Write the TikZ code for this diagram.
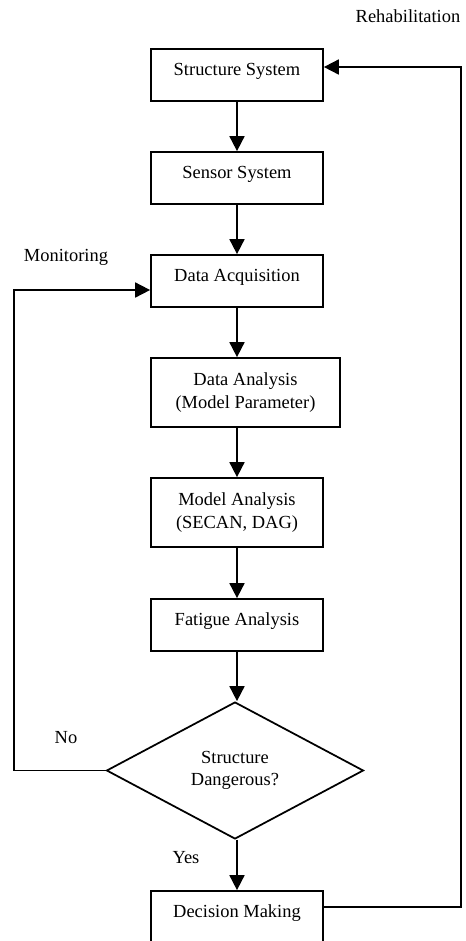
\documentclass[tikz,border=0pt]{standalone}
\usepackage{fontspec}
\setmainfont{Liberation Serif}
\usetikzlibrary{arrows.meta, shapes.geometric}

\begin{document}
\begin{tikzpicture}[x=0.02cm, y=-0.02cm, line width=1pt,
    font=\fontsize{10.5}{12.6}\selectfont,
    box/.style={draw, rectangle, minimum width=3.44cm, minimum height=1.04cm,
      text height=7.4pt, text depth=7.4pt, inner sep=2pt},
    tallbox/.style={draw, rectangle, minimum width=3.44cm, minimum height=1.38cm,
      align=center, inner sep=2pt},
    decide/.style={draw, diamond, minimum width=5.14cm, minimum height=2.74cm,
      align=center, inner sep=0pt},
    flow/.style={-{Triangle[length=8.5pt, width=8.5pt]}}]
  \useasboundingbox (0,0) rectangle (466,941);
  % main chain
  \node[box] (struct) at (237,75) {Structure System};
  \node[box] (sensor) at (237,178) {Sensor System};
  \node[box] (acq) at (237,281) {Data Acquisition};
  \node[tallbox, minimum width=3.78cm] (dana) at (245.5,392.5) {Data Analysis\\(Model Parameter)};
  \node[tallbox] (mana) at (237,512.5) {Model Analysis\\(SECAN, DAG)};
  \node[box] (fat) at (237,625) {Fatigue Analysis};
  \node[decide] (danger) at (235,770.5) {Structure\\Dangerous?};
  \node[box] (dm) at (237,917) {Decision Making};
  % labels
  \node (rehab) at (408,16) {Rehabilitation};
  \node (monitor) at (66,257) {Monitoring};
  \node (no) at (66,738) {No};
  \node (yes) at (186,858) {Yes};
  % arrows down the chain
  \draw[flow] (struct) -- (sensor);
  \draw[flow] (sensor) -- (acq);
  \draw[flow] (acq.south) -- (acq.south |- dana.north);
  \draw[flow] (dana.south -| acq.south) -- (mana.north);
  \draw[flow] (mana) -- (fat);
  \draw[flow] (fat.south) -- (fat.south |- danger.north);
  \draw[flow] (danger.south -| dm.north) -- (dm.north);
  % feedback loops
  \coordinate (nocorner) at (14,770.5);
  \draw[flow] (danger.west) -- (nocorner) |- ([yshift=-0.18cm]acq.west);
  \coordinate (rehabcorner) at (461,907);
  \draw[flow] ([yshift=0.2cm]dm.east) -- (rehabcorner) |- ([yshift=0.16cm]struct.east);
\end{tikzpicture}
\end{document}
